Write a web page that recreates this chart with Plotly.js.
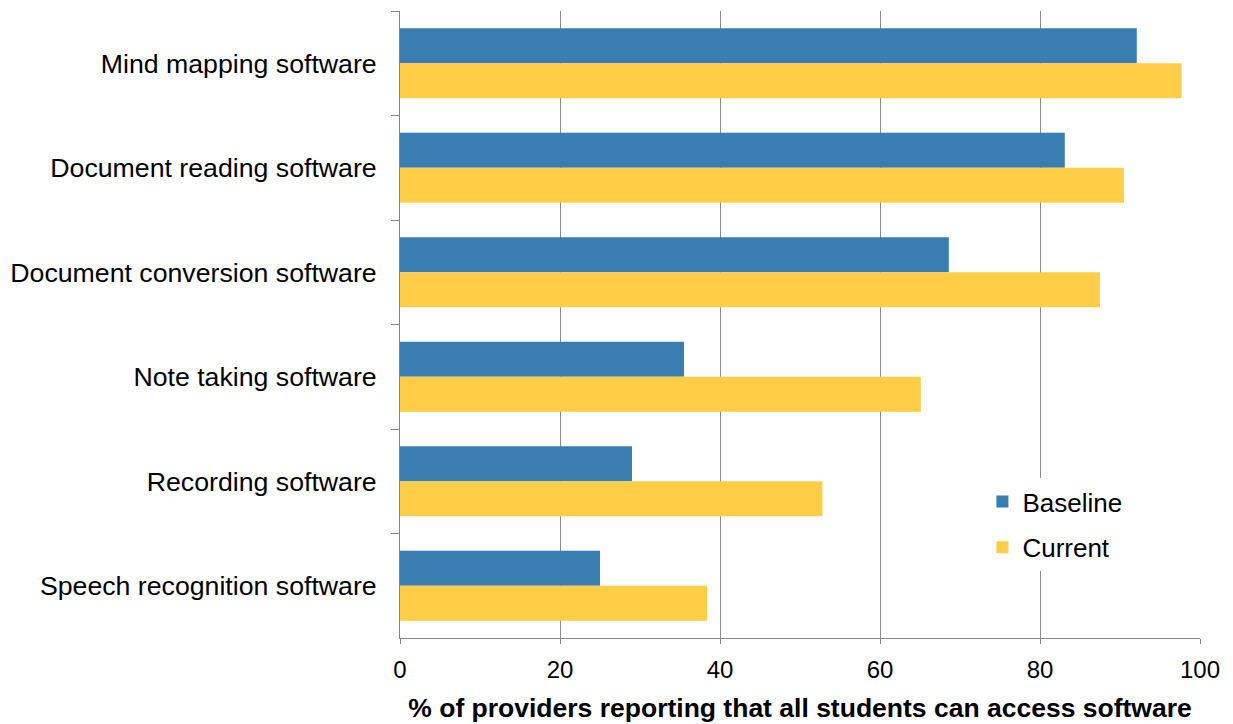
<!DOCTYPE html>
<html>
<head>
<meta charset="utf-8">
<script src="https://cdn.plot.ly/plotly-3.0.1.min.js"></script>
<style>html,body{margin:0;padding:0;background:#fff;}#chart{width:1233px;height:724px;}</style>
</head>
<body>
<div id="chart"></div>
<script>
const categories = [
  "Mind mapping software",
  "Document reading software",
  "Document conversion software",
  "Note taking software",
  "Recording software",
  "Speech recognition software"
];
const baseline = [92.1, 83.1, 68.6, 35.5, 29.0, 25.0];
const current = [97.7, 90.5, 87.5, 65.1, 52.8, 38.4];
const xTicks = [0, 20, 40, 60, 80, 100];

const font = "Liberation Sans, Arial, sans-serif";
const traces = [
  {type: "bar", orientation: "h", name: "Baseline", y: categories, x: baseline,
   marker: {color: "#3A7EB1", line: {width: 0}}, legendgroup: "a"},
  {type: "bar", orientation: "h", name: "Current", y: categories, x: current,
   marker: {color: "#FFCD46", line: {width: 0}}, legendgroup: "b"}
];
const layout = {
  width: 1233, height: 724,
  margin: {l: 400, r: 33, t: 11, b: 86, pad: 0},
  paper_bgcolor: "#fff", plot_bgcolor: "#fff",
  barmode: "group", bargap: 0.33, bargroupgap: 0,
  font: {family: font, color: "#000", size: 26},
  showlegend: true,
  legend: {x: 0.728, xanchor: "left", y: 0.255, yanchor: "top", bgcolor: "#fff",
           font: {family: font, size: 26, color: "#000"}, tracegroupgap: 9,
           traceorder: "grouped"},
  xaxis: {range: [0, 100], tickvals: xTicks, ticktext: xTicks.map(String),
          showgrid: true, gridcolor: "#8C8C8C", gridwidth: 1,
          showline: true, linecolor: "#868686", linewidth: 1,
          ticks: "outside", ticklen: 5, tickcolor: "#868686",
          zeroline: false, tickfont: {size: 24, family: font}, ticklabelstandoff: 5,
          title: {text: "<b>% of providers reporting that all students can access software</b>",
                  font: {size: 26.5, family: font}, standoff: 16}},
  yaxis: {type: "category", autorange: "reversed", showgrid: false,
          showline: true, linecolor: "#868686", linewidth: 1,
          ticks: "outside", ticklen: 8, tickcolor: "#868686", tickson: "boundaries",
          tickfont: {size: 26.7, family: font}, ticklabelstandoff: 17, zeroline: false}
};
Plotly.newPlot("chart", traces, layout, {displayModeBar: false, staticPlot: true});
</script>
</body>
</html>
